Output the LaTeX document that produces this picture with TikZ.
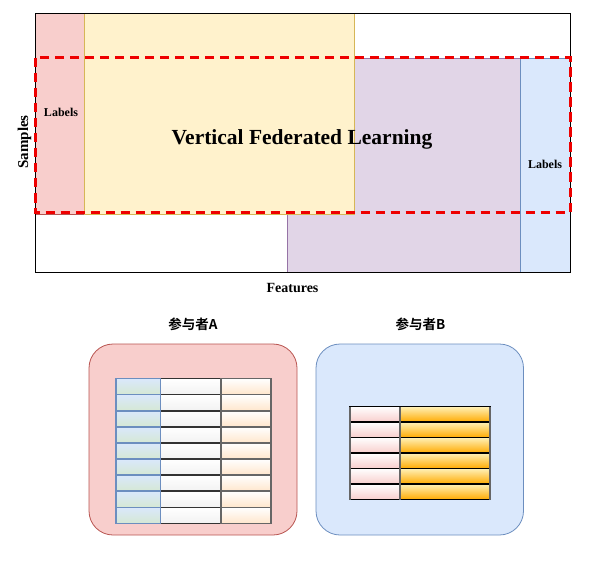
\documentclass[tikz,border=0pt]{standalone}
\usepackage{fontspec}
\setmainfont{Liberation Serif}
\newfontfamily\cjk{Noto Sans CJK SC}[BoldFont={Noto Sans CJK SC Bold}]
\definecolor{redF}{HTML}{F8CECC}
\definecolor{redS}{HTML}{B85450}
\definecolor{yelF}{HTML}{FFF2CC}
\definecolor{yelS}{HTML}{D6B656}
\definecolor{purF}{HTML}{E1D5E7}
\definecolor{purS}{HTML}{9673A6}
\definecolor{bluF}{HTML}{DAE8FC}
\definecolor{bluS}{HTML}{6C8EBF}
\definecolor{grnF}{HTML}{D5E8D4}
\definecolor{peach}{HTML}{FFE6CC}
\definecolor{grayF}{HTML}{F2F2F2}
\definecolor{orTop}{HTML}{FFF1B8}
\definecolor{orBot}{HTML}{FFAA00}
\definecolor{dashred}{HTML}{EE0000}
\begin{document}
\begin{tikzpicture}[x=1pt,y=-1pt,
  region/.style={line width=0.8pt},
  lbl/.style={font=\bfseries\fontsize{12}{14}\selectfont, inner sep=0pt},
  party/.style={rounded corners=24pt, line width=0.8pt},
  ptitle/.style={font=\cjk\bfseries\fontsize{13.5}{15}\selectfont, inner sep=0pt},
  cellA1/.style={draw=bluS, line width=1.6pt, top color=bluF, bottom color=grnF},
  cellA2/.style={draw=black!80, line width=1.6pt, top color=white, bottom color=grayF},
  cellA3/.style={draw=black!60, line width=1.6pt, top color=white, bottom color=peach},
  cellB1/.style={draw=black, line width=1.1pt, top color=white, bottom color=redF},
  cellB2/.style={draw=black, line width=1.1pt, top color=orTop, bottom color=orBot},
]
\useasboundingbox (0,0) rectangle (609,561);
% top diagram
\filldraw[region, fill=purF, draw=purS] (287,58) rectangle (520,272);
\filldraw[region, fill=bluF, draw=bluS] (520,58) rectangle (570,272);
\filldraw[region, fill=redF, draw=redS] (35,13) rectangle (84,214);
\filldraw[region, fill=yelF, draw=yelS] (84,13) rectangle (354,214);
\node[draw=black, line width=1pt, minimum width=535pt, minimum height=259pt, inner sep=0pt, anchor=north west] (frame) at (35,13) {};
\draw[dashred, line width=3pt, dash pattern=on 9.5pt off 5.5pt] (35,58) rectangle (570,212.5);
\node[lbl] (labA) at (61,112) {Labels};
\node[lbl] (labB) at (545,164.5) {Labels};
\node[font=\bfseries\fontsize{21.5}{24}\selectfont, inner sep=0pt] (vfl) at (302,139.5) {Vertical Federated Learning};
\node[font=\bfseries\fontsize{15}{17}\selectfont, inner sep=0pt, rotate=90] (samples) at (24.5,142) {Samples};
\node[font=\bfseries\fontsize{14}{16}\selectfont, inner sep=0pt] (features) at (292.5,288) {Features};
% party A
\node[ptitle] (titleA) at (193,324.5) {参与者A};
\filldraw[party, fill=redF, draw=redS] (89,344) rectangle (297,535);
\foreach \i in {0,...,8}{
  \pgfmathsetmacro{\ya}{378.5+16.1*\i}
  \pgfmathsetmacro{\yb}{378.5+16.1*(\i+1)}
  \draw[cellA2] (160.5,\ya) rectangle (220.8,\yb);
  \draw[cellA3] (220.8,\ya) rectangle (271.2,\yb);
  \draw[cellA1] (115.7,\ya) rectangle (160.5,\yb);
}
% party B
\node[ptitle] (titleB) at (420.5,324.5) {参与者B};
\filldraw[party, fill=bluF, draw=bluS] (316,344) rectangle (523.5,535);
\foreach \i in {0,...,5}{
  \pgfmathsetmacro{\ya}{406.5+15.5*\i}
  \pgfmathsetmacro{\yb}{406.5+15.5*(\i+1)}
  \draw[cellB1] (349.8,\ya) rectangle (399.8,\yb);
  \draw[cellB2] (399.8,\ya) rectangle (490,\yb);
}
\draw[black!60, line width=1.5pt] (349.8,406.5) -- (349.8,499.5);
\draw[black!60, line width=1.5pt] (399.8,406.5) -- (399.8,499.5);
\draw[black!60, line width=1.5pt] (490,406.5) -- (490,499.5);
\end{tikzpicture}
\end{document}
